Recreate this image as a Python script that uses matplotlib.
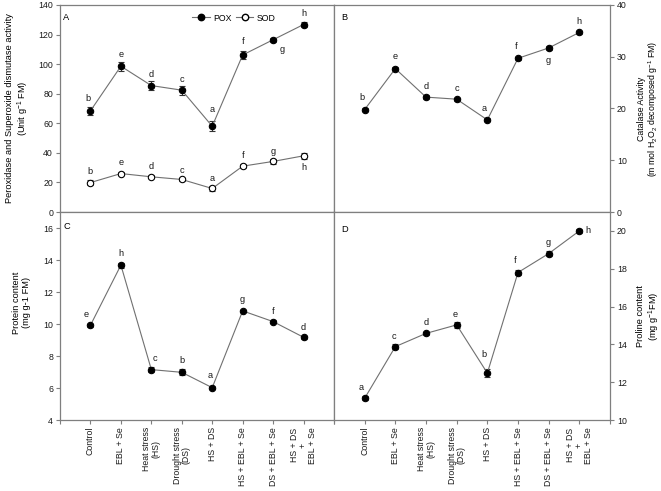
import matplotlib
matplotlib.use("Agg")
import matplotlib.pyplot as plt
import numpy as np

plt.rcParams['font.family'] = ['Liberation Sans', 'DejaVu Sans']
plt.rcParams['mathtext.fontset'] = 'custom'
plt.rcParams['mathtext.rm'] = 'Liberation Sans'
plt.rcParams['mathtext.it'] = 'Liberation Sans:italic'
plt.rcParams['mathtext.bf'] = 'Liberation Sans:bold'

# ---------------- data ----------------
categories = ['Control', 'EBL + Se', 'Heat stress\n(HS)', 'Drought stress\n(DS)',
              'HS + DS', 'HS + EBL + Se', 'DS + EBL + Se', 'HS + DS\n+\nEBL + Se']

pox = [68.4, 98.6, 85.5, 82.4, 58.0, 106.2, 116.5, 126.8]
pox_err = [2.5, 3.0, 3.0, 3.0, 3.5, 3.0, 1.5, 2.0]
pox_letters = ['b', 'e', 'd', 'c', 'a', 'f', 'g', 'h']

sod = [19.9, 26.0, 23.8, 22.0, 15.9, 31.0, 34.2, 38.0]
sod_err = [1.5, 1.2, 1.0, 1.0, 1.5, 1.5, 1.5, 2.0]
sod_letters = ['b', 'e', 'd', 'c', 'a', 'f', 'g', 'h']

cat = [19.8, 27.7, 22.2, 21.8, 17.8, 29.7, 31.7, 34.7]
cat_err = [0.3, 0.3, 0.4, 0.3, 0.3, 0.3, 0.3, 0.3]
cat_letters = ['b', 'e', 'd', 'c', 'a', 'f', 'g', 'h']

protein = [9.92, 13.68, 7.15, 6.98, 6.02, 10.82, 10.15, 9.17]
protein_err = [0.1, 0.15, 0.15, 0.18, 0.08, 0.08, 0.08, 0.1]
protein_letters = ['e', 'h', 'c', 'b', 'a', 'g', 'f', 'd']

proline = [11.15, 13.88, 14.58, 15.03, 12.48, 17.8, 18.8, 20.0]
proline_err = [0.1, 0.12, 0.1, 0.15, 0.22, 0.15, 0.12, 0.1]
proline_letters = ['a', 'c', 'd', 'e', 'b', 'f', 'g', 'h']

# letter offsets in pixels (dx, dy)
pox_off = [(-2, 12), (0, 12), (0, 11), (0, 11), (0, 17), (0, 13), (9, -10), (0, 11)]
sod_off = [(0, 11), (0, 11), (0, 10), (0, 9), (0, 10), (0, 11), (0, 10), (0, -12)]
cat_off = [(-3, 12), (0, 12), (0, 11), (0, 11), (-3, 11), (-2, 12), (0, -13), (0, 11)]
protein_off = [(-4, 11), (0, 12), (4, 11), (0, 12), (-2, 12), (0, 11), (0, 10), (0, 10)]
proline_off = [(-3, 11), (-1, 10), (0, 11), (-1, 10), (-3, 19), (-3, 12), (0, 11), (9, 0)]

x = np.arange(1, len(categories) + 1)

W, H = 661, 491
fig = plt.figure(figsize=(W / 100, H / 100), dpi=100)

def rect(x0, x1, ytop, ybot):
    return [x0 / W, 1 - ybot / H, (x1 - x0) / W, (ybot - ytop) / H]

xl, xm, xr = 60, 334, 610
yt, ym, yb = 5, 212, 420
axA = fig.add_axes(rect(xl, xm, yt, ym))
axB = fig.add_axes(rect(xm, xr, yt, ym))
axC = fig.add_axes(rect(xl, xm, ym, yb))
axD = fig.add_axes(rect(xm, xr, ym, yb))

spine_col = '#7f7f7f'
line_col = '#707070'
fs = 6.3
lfs = 6.7

for ax in (axA, axB, axC, axD):
    for s in ax.spines.values():
        s.set_color(spine_col)
        s.set_linewidth(0.9)
    ax.set_xlim(0, 9)
    ax.tick_params(colors=spine_col, labelcolor='#1a1a1a', labelsize=fs,
                   length=3, width=0.8, direction='out', pad=2)

def series(ax, vals, errs, letters, offs, filled=True):
    ax.errorbar(x, vals, yerr=errs, color=line_col, lw=0.8,
                ecolor='#333333', elinewidth=0.8, capsize=2, capthick=0.8,
                marker='o', ms=4.6, mec='black', mew=0.8,
                mfc='black' if filled else 'white', zorder=3)
    for xi, v, l, (dx, dy) in zip(x, vals, letters, offs):
        ax.annotate(l, (xi, v), xytext=(dx, dy), textcoords='offset pixels',
                    ha='center', va='center', fontsize=lfs, color='#1a1a1a')

# A
series(axA, pox, pox_err, pox_letters, pox_off, True)
series(axA, sod, sod_err, sod_letters, sod_off, False)
axA.set_ylim(0, 140)
axA.set_yticks(np.arange(0, 141, 20))
axA.tick_params(axis='x', bottom=False, labelbottom=False)
axA.set_ylabel('Peroxidase and Superoxide dismutase activity\n(Unit g$^{-1}$ FM)',
               fontsize=lfs, linespacing=1.1)
axA.yaxis.set_label_coords(-0.107, 0.5)
hp = axA.plot([], [], color=line_col, lw=0.8, marker='o', ms=4.6, mfc='black', mec='black')[0]
hs = axA.plot([], [], color=line_col, lw=0.8, marker='o', ms=4.6, mfc='white', mec='black')[0]
axA.legend([hp, hs], ['POX', 'SOD'], ncol=2, frameon=False, fontsize=fs,
           loc='center', bbox_to_anchor=(0.635, 0.937), handlelength=2.0,
           handletextpad=0.4, columnspacing=0.5)
axA.text(0.012, 0.942, 'A', transform=axA.transAxes, fontsize=lfs, va='center')

# B
series(axB, cat, cat_err, cat_letters, cat_off, True)
axB.set_ylim(0, 40)
axB.set_yticks(np.arange(0, 41, 10))
axB.yaxis.tick_right()
axB.yaxis.set_label_position('right')
axB.tick_params(axis='x', bottom=False, labelbottom=False)
axB.set_ylabel('Catalase Activity\n(m mol H$_2$O$_2$ decomposed g$^{-1}$ FM)',
               fontsize=6.3, linespacing=1.05)
axB.yaxis.set_label_coords(1.097, 0.5)
axB.text(0.025, 0.942, 'B', transform=axB.transAxes, fontsize=lfs, va='center')

# C
series(axC, protein, protein_err, protein_letters, protein_off, True)
axC.set_ylim(4, 17)
axC.set_yticks(np.arange(4, 17, 2))
axC.set_ylabel('Protein content\n(mg g-1 FM)', fontsize=lfs, linespacing=1.1)
axC.yaxis.set_label_coords(-0.107, 0.565)
axC.text(0.012, 0.93, 'C', transform=axC.transAxes, fontsize=lfs, va='center')

# D
series(axD, proline, proline_err, proline_letters, proline_off, True)
axD.set_ylim(10, 21)
axD.set_yticks(np.arange(10, 21, 2))
axD.yaxis.tick_right()
axD.yaxis.set_label_position('right')
axD.set_ylabel('Proline content\n(mg g$^{-1}$FM)', fontsize=lfs, linespacing=1.1)
axD.yaxis.set_label_coords(1.095, 0.5)
axD.text(0.025, 0.915, 'D', transform=axD.transAxes, fontsize=lfs, va='center')

for ax in (axC, axD):
    ax.set_xticks(np.arange(0, 10))
    ax.set_xticklabels([''] + categories + [''], rotation=90, fontsize=fs,
                       ha='center', va='top', multialignment='center', linespacing=1.0)

fig.savefig('out.png', dpi=100)
